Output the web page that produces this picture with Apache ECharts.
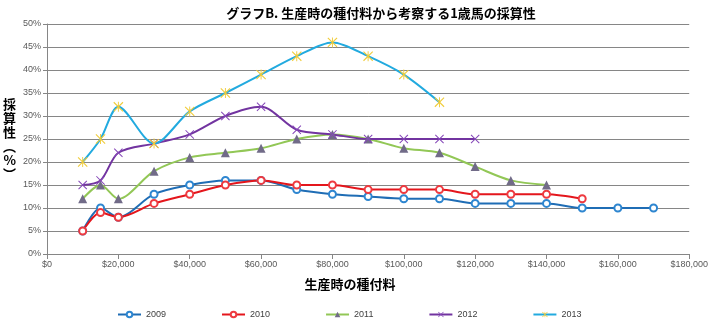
<!DOCTYPE html>
<html><head><meta charset="utf-8">
<script src="https://cdn.jsdelivr.net/npm/echarts@6/dist/echarts.min.js"></script>
<style>html,body{margin:0;padding:0;background:#fff}#c{width:711px;height:327px}</style>
</head><body><div id="c"></div>
<script>
const fees = [10000,15000,20000,30000,40000,50000,60000,70000,80000,90000,100000,110000,120000,130000,140000,150000,160000,170000];
const seriesNames = ['2009','2010','2011','2012','2013'];
const v2009 = [5,10,8,13,15,16,16,14,13,12.5,12,12,11,11,11,10,10,10];
const v2010 = [5,9,8,11,13,15,16,15,15,14,14,14,13,13,13,12];
const v2011 = [12,15,12,18,21,22,23,25,26,25,23,22,19,16,15];
const v2012 = [15,16,22,24,26,30,32,27,26,25,25,25,25];
const v2013 = [20,25,32,24,31,35,39,43,46,43,39,33];
const title = 'グラフB. 生産時の種付料から考察する1歳馬の採算性';
const xName = '生産時の種付料';
const yName = '採\n算\n性\n︵\n%\n︶';

const pairs = v => v.map((y,i)=>[fees[i], y]);
const xPath = 'path://M0.85,-0.85L20.85,19.15L19.15,20.85L-0.85,0.85ZM19.15,-0.85L20.85,0.85L0.85,20.85L-0.85,19.15Z';
const starPath = 'path://M0.85,-0.85L20.85,19.15L19.15,20.85L-0.85,0.85ZM19.15,-0.85L20.85,0.85L0.85,20.85L-0.85,19.15ZM9,-1L11,-1L11,21L9,21Z';
const lab = {fontFamily:'Liberation Sans', fontSize:9, color:'#595959'};

const chart = echarts.init(document.getElementById('c'), null, {renderer:'canvas'});
chart.setOption({
  animation:false,
  title:{text:title, left:376, top:2, textAlign:'center',
    textStyle:{fontFamily:'Noto Sans CJK JP', fontSize:13, fontWeight:'bold', color:'#000'}},
  grid:{left:44, right:19, top:24, bottom:73},
  legend:{bottom:3, left:112, itemGap:55, itemWidth:23, itemHeight:7,
    textStyle:{fontFamily:'Liberation Sans', fontSize:9, color:'#404040'},
    data:seriesNames},
  xAxis:{type:'value', min:0, max:180000, interval:20000,
    name:xName, nameLocation:'middle', nameGap:24,
    nameTextStyle:{fontFamily:'Noto Sans CJK JP', fontSize:13, fontWeight:'bold', color:'#000', padding:[0,36,0,0]},
    axisLine:{show:true, lineStyle:{color:'#868686'}},
    axisTick:{show:true, length:5, lineStyle:{color:'#868686'}},
    splitLine:{show:false},
    axisLabel:Object.assign({margin:6, formatter:v=>'$'+v.toLocaleString('en-US')}, lab)},
  yAxis:{type:'value', min:0, max:50, interval:5,
    name:yName, nameLocation:'middle', nameGap:31, nameRotate:0,
    nameTextStyle:{fontFamily:'Noto Sans CJK JP', fontSize:13, fontWeight:'bold', color:'#000', lineHeight:14},
    axisLine:{show:true, lineStyle:{color:'#868686'}},
    axisTick:{show:true, length:4, lineStyle:{color:'#868686'}},
    splitLine:{show:true, lineStyle:{color:'#868686', width:1}},
    axisLabel:Object.assign({margin:6, formatter:'{value}%'}, lab)},
  series:[
    {name:'2009', type:'line', smooth:0.3, data:pairs(v2009), symbol:'emptyCircle', symbolSize:7,
      lineStyle:{width:2, color:'#1F6DB5'}, itemStyle:{color:'#2E86D0', borderColor:'#2E86D0', borderWidth:1}},
    {name:'2010', type:'line', smooth:0.3, data:pairs(v2010), symbol:'emptyCircle', symbolSize:7,
      lineStyle:{width:2, color:'#E4161C'}, itemStyle:{color:'#EE3A40', borderColor:'#EE3A40', borderWidth:1}},
    {name:'2011', type:'line', smooth:0.3, data:pairs(v2011), symbol:'triangle', symbolSize:9,
      lineStyle:{width:2, color:'#92C756'}, itemStyle:{color:'#716B88'}},
    {name:'2012', type:'line', smooth:0.3, data:pairs(v2012), symbol:xPath, symbolSize:9,
      lineStyle:{width:2, color:'#7234A0'}, itemStyle:{color:'#8547B8'}},
    {name:'2013', type:'line', smooth:0.3, data:pairs(v2013), symbol:starPath, symbolSize:10,
      lineStyle:{width:2, color:'#22AADF'}, itemStyle:{color:'#F0CC3A'}}
  ]
});
</script></body></html>
